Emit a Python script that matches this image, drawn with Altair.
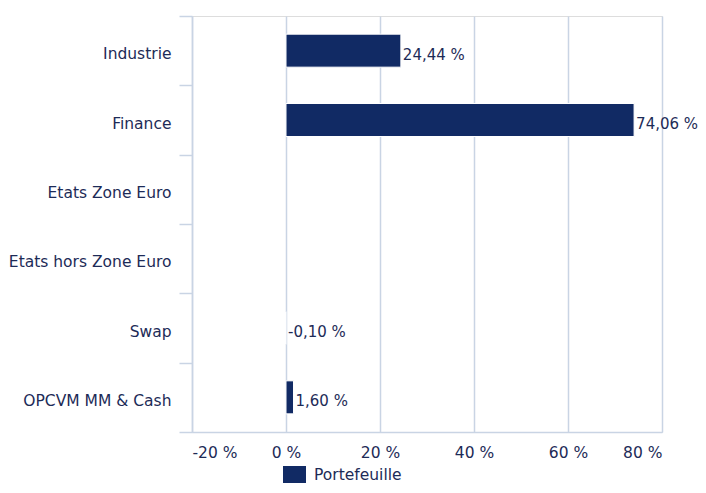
import altair as alt
import pandas as pd

categories = ["Industrie", "Finance", "Etats Zone Euro", "Etats hors Zone Euro", "Swap", "OPCVM MM & Cash"]
values = [24.44, 74.06, None, None, -0.10, 1.60]
series_name = "Portefeuille"
x_ticks = [-20, 0, 20, 40, 60, 80]

def fr(v):
    return None if v is None else f"{v:.2f}".replace(".", ",") + " %"

df = pd.DataFrame({
    "cat": categories,
    "val": values,
    "label": [fr(v) for v in values],
    "serie": [series_name] * len(categories),
})

NAVY = "#112a64"
TEXT = "#1d2b57"
GRID = "#c9d4e4"
FONT = "DejaVu Sans"
FS = 15.5

y_enc = alt.Y("cat:N", sort=categories, title=None,
              scale=alt.Scale(paddingInner=0, paddingOuter=0),
              axis=alt.Axis(tickBand="extent", tickSize=13, tickColor=GRID, tickWidth=1.5,
                            domainColor=GRID, domainWidth=1.5, labelPadding=8,
                            labelColor=TEXT, labelFont=FONT, labelFontSize=FS,
                            labelOffset=3, grid=False))

bars = alt.Chart(df).mark_bar(size=33, stroke="white", strokeWidth=1).encode(
    x=alt.X("val:Q", title=None,
            scale=alt.Scale(domain=[-20, 80], nice=False),
            axis=alt.Axis(values=x_ticks, ticks=False, grid=True, gridColor=GRID, gridWidth=1.5,
                          domainColor=GRID, domainWidth=1.5, labelPadding=13,
                          labelColor=TEXT, labelFont=FONT, labelFontSize=FS,
                          labelExpr="datum.value + ' %'")),
    y=y_enc,
    color=alt.Color("serie:N", scale=alt.Scale(range=[NAVY]),
                    legend=alt.Legend(title=None, orient="none", legendX=91, legendY=447,
                                      symbolType="M-1,-0.74H1V0.74H-1Z", symbolSize=529,
                                      symbolStrokeWidth=0, labelFont=FONT, labelFontSize=FS,
                                      labelColor=TEXT, labelOffset=8, padding=0)),
)

texts = alt.Chart(df).transform_filter("datum.val != null").transform_calculate(
    xpos="max(datum.val, 0)"
).mark_text(align="left", baseline="middle", dx=2, dy=4, font=FONT, fontSize=15, color=TEXT).encode(
    x=alt.X("xpos:Q"),
    y=alt.Y("cat:N", sort=categories),
    text="label:N",
)

chart = alt.layer(bars, texts).properties(
    width=470, height=416,
    autosize=alt.AutoSizeParams(type="none"),
    padding={"left": 184, "top": 8, "right": 36, "bottom": 53},
).configure_view(stroke=None).configure(background="white")

chart.save("out.html", embed_options={"renderer": "svg", "actions": False})
